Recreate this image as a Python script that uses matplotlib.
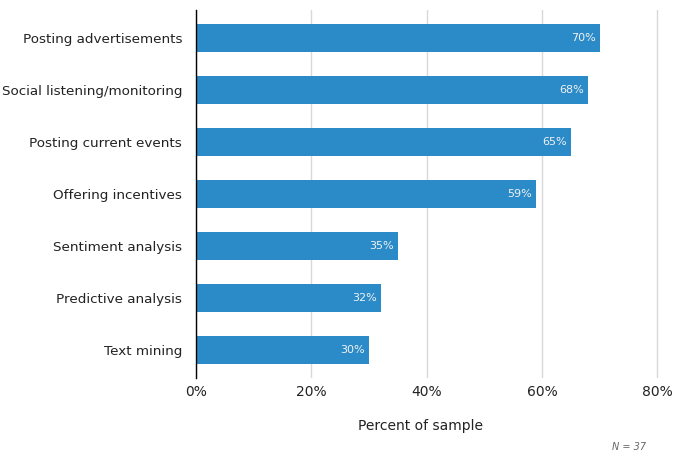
import matplotlib
matplotlib.use("Agg")
import matplotlib.pyplot as plt
from matplotlib.ticker import FuncFormatter

categories = ["Posting advertisements", "Social listening/monitoring", "Posting current events",
              "Offering incentives", "Sentiment analysis", "Predictive analysis", "Text mining"]
values = [70, 68, 65, 59, 35, 32, 30]
xticks = [0, 20, 40, 60, 80]

fig = plt.figure(figsize=(6.75, 4.72), dpi=100)
ax = fig.add_axes([196/675, 1-378/472, (659-196)/675, 368/472])

ypos = list(range(len(categories)))
ax.barh(ypos, values, height=0.54, color="#2a8bc8", zorder=2)
for y, v in zip(ypos, values):
    ax.text(v - 0.7, y, f"{v}%", ha="right", va="center", color="#f2f2f2", fontsize=8, zorder=3)

ax.set_yticks(ypos)
ax.set_yticklabels(categories, fontsize=9.7, color="#222222")
ax.set_ylim(len(categories) - 1 + 0.54, -0.54)
ax.set_xlim(0, 80.3)
ax.set_xticks(xticks)
ax.xaxis.set_major_formatter(FuncFormatter(lambda x, p: f"{int(x)}%"))
ax.tick_params(axis="x", labelsize=10, length=0, pad=5, labelcolor="#222222")
ax.tick_params(axis="y", length=0, pad=10)
ax.grid(axis="x", color="#d9d9d9", linewidth=1, zorder=0)
for s in ["top", "right", "bottom"]:
    ax.spines[s].set_visible(False)
ax.spines["left"].set_color("black")
ax.spines["left"].set_linewidth(1)
ax.set_xlabel("Percent of sample", fontsize=10, labelpad=14, color="#222222")
ax.xaxis.set_label_coords((421-196)/463, -(426-378)/368, transform=ax.transAxes)
ax.xaxis.label.set_va("center")
fig.text(646/675, 1-447/472, "N = 37", ha="right", va="center", fontsize=7, style="italic", color="#666666")

fig.savefig("out.png", dpi=100)
